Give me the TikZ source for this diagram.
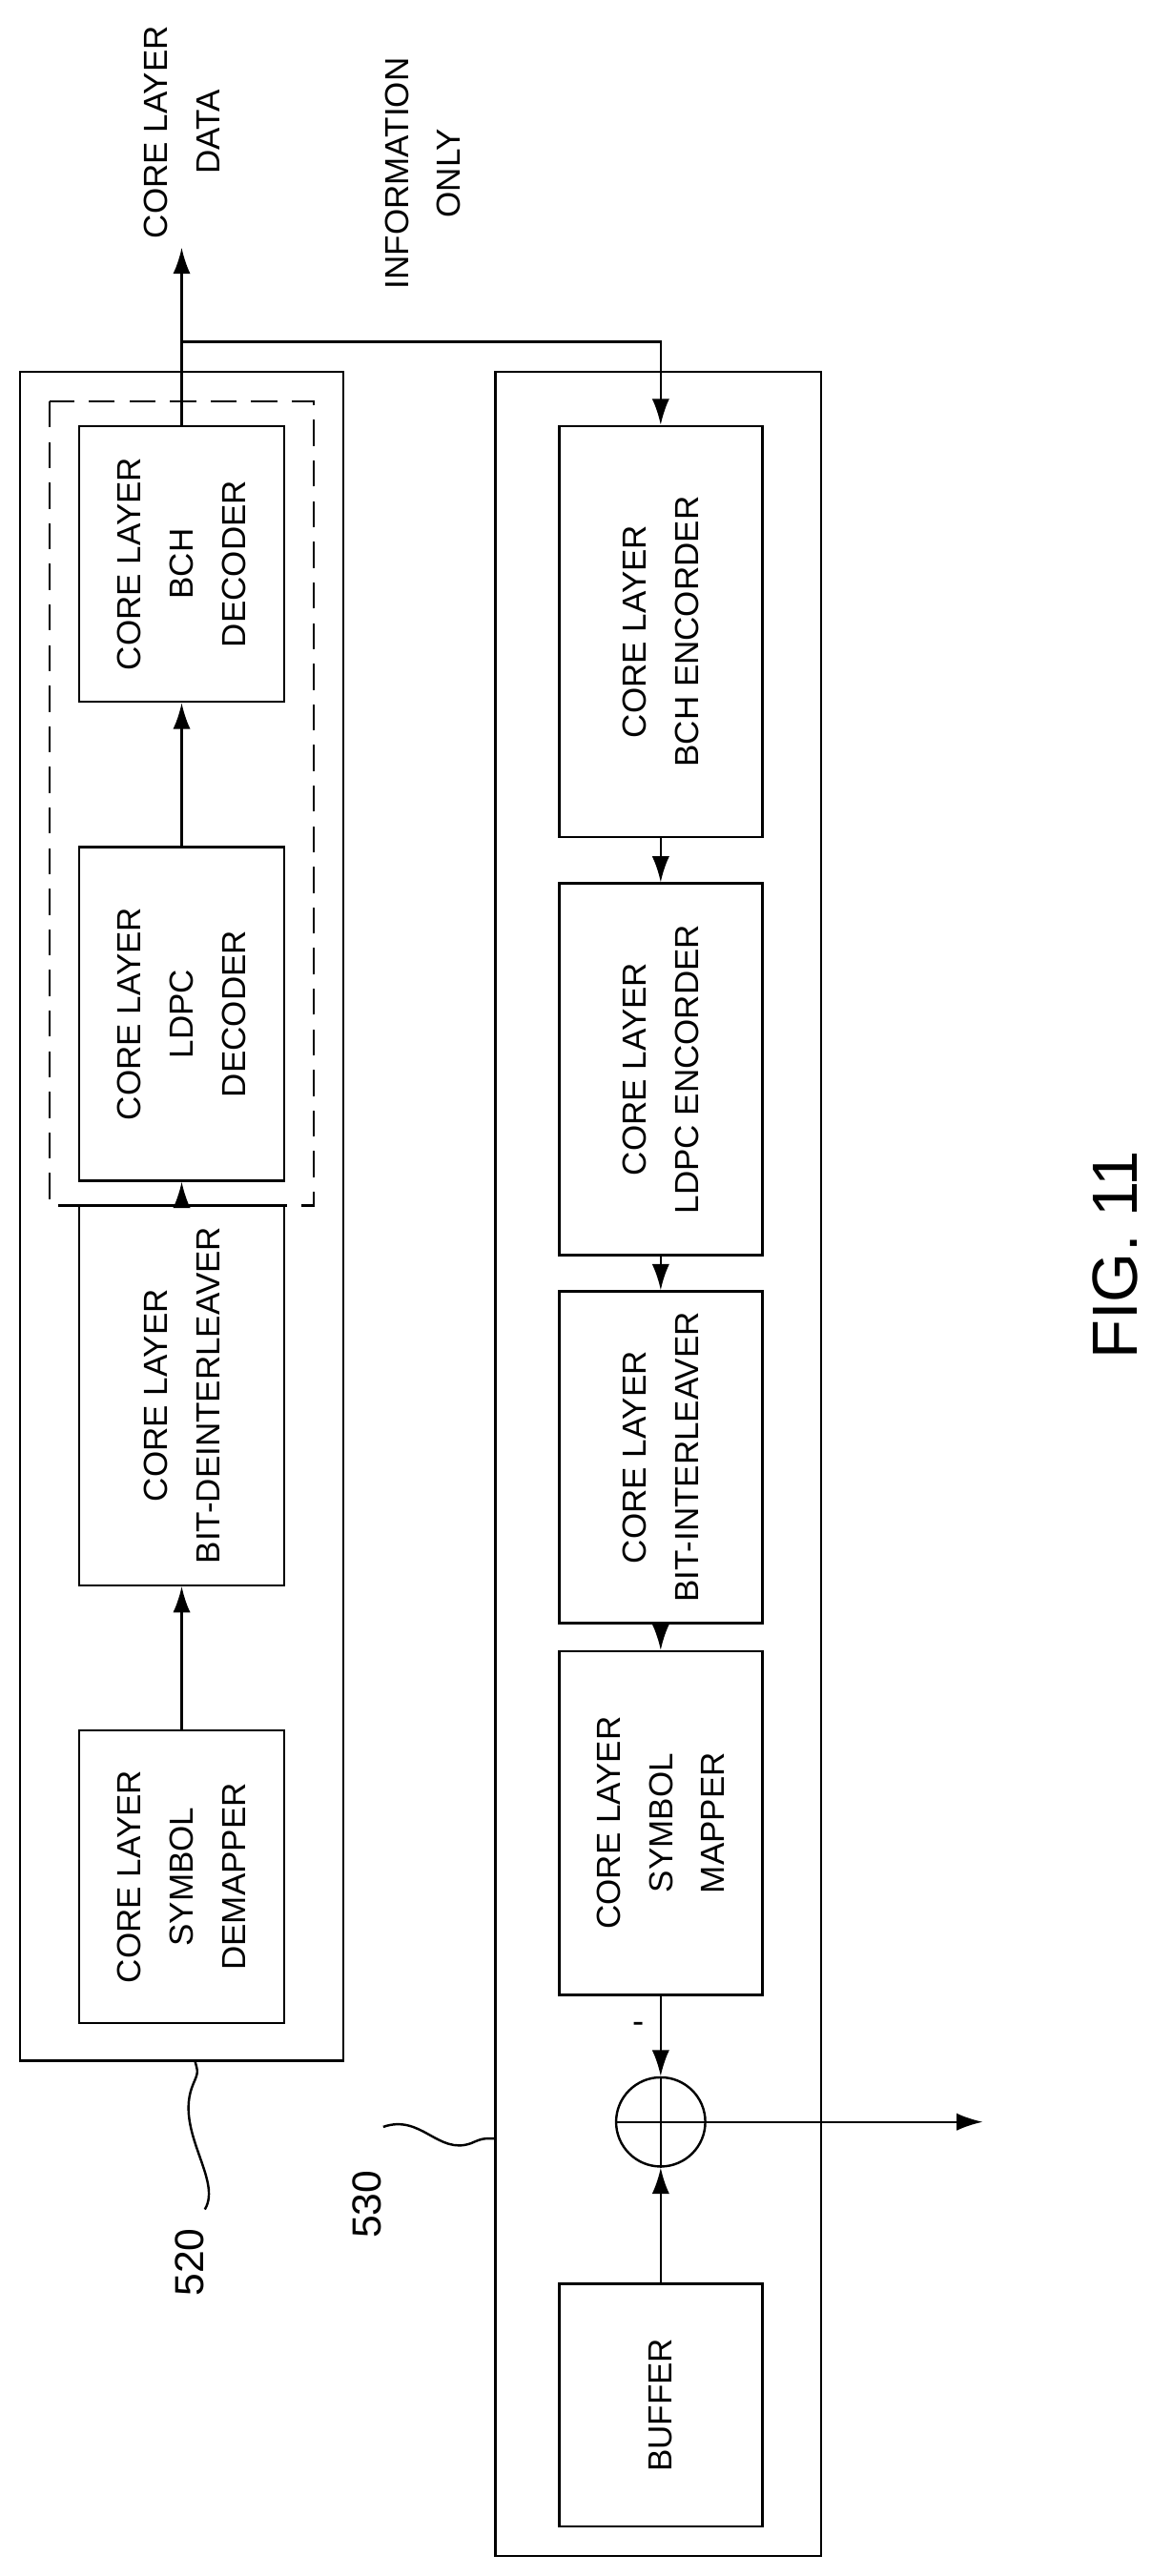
\documentclass[tikz,border=0pt]{standalone}
\usepackage{fontspec}
\setmainfont{Liberation Sans}
\usetikzlibrary{positioning,calc,arrows.meta}
\begin{document}
\begin{tikzpicture}[x=0.02cm,y=-0.02cm,
	blk/.style={draw,thick,rotate=90,align=center,inner sep=0pt,font=\fontsize{11.5}{18}\selectfont},
	lbl/.style={rotate=90,align=center,font=\fontsize{11.5}{18}\selectfont},
	arr/.style={-{Latex[length=9pt,width=6pt]},thick}]
	\useasboundingbox (0,0) rectangle (697,1560);
	%outer boxes
	\draw[thick] (12,225) rectangle (208,1248);
	\draw[thick,dashed,dash pattern=on 9pt off 5pt] (30,243) rectangle (190,730);
	\draw[thick] (300,225) rectangle (497,1548);
	%decoder side
	\node[blk,minimum width=3.34cm,minimum height=2.48cm] (bchdec) at (110,341.5) {CORE LAYER\\BCH\\DECODER};
	\node[blk,minimum width=4.04cm,minimum height=2.48cm] (ldpcdec) at (110,614) {CORE LAYER\\LDPC\\DECODER};
	\node[blk,minimum width=4.6cm,minimum height=2.48cm] (deint) at (110,845) {CORE LAYER\\BIT-DEINTERLEAVER};
	\node[blk,minimum width=3.54cm,minimum height=2.48cm] (demap) at (110,1136.5) {CORE LAYER\\SYMBOL\\DEMAPPER};
	%encoder side
	\node[blk,minimum width=4.98cm,minimum height=2.46cm] (bchenc) at (400,382.5) {CORE LAYER\\BCH ENCORDER};
	\node[blk,minimum width=4.5cm,minimum height=2.46cm] (ldpcenc) at (400,647.5) {CORE LAYER\\LDPC ENCORDER};
	\node[blk,minimum width=4.02cm,minimum height=2.46cm] (bitint) at (400,882.5) {CORE LAYER\\BIT-INTERLEAVER};
	\node[blk,minimum width=4.16cm,minimum height=2.46cm] (mapper) at (400,1104) {CORE LAYER\\SYMBOL\\MAPPER};
	\node[blk,minimum width=2.94cm,minimum height=2.46cm] (buffer) at (400,1456.5) {BUFFER};
	\node[draw,thick,circle,minimum size=1.08cm,inner sep=0pt] (sum) at (400,1285) {};
	\draw[thick] (sum.north) -- (sum.south) (sum.west) -- (sum.east);
	%connectors
	\draw[arr] (demap.east) -- (deint.west);
	\draw[arr] (deint.east) -- (ldpcdec.west);
	\draw[arr] (ldpcdec.east) -- (bchdec.west);
	\coordinate (out) at (110,150);
	\coordinate (tap) at (110,207);
	\draw[arr] (bchdec.east) -- (out);
	\draw[arr] (tap) -| (bchenc.east);
	\draw[arr] (bchenc.west) -- (ldpcenc.east);
	\draw[arr] (ldpcenc.west) -- (bitint.east);
	\draw[arr] (bitint.west) -- (mapper.east);
	\draw[arr] (mapper.west) -- (sum.north) node[pos=0.4,left=2pt,font=\large] {-};
	\draw[arr] (buffer.east) -- (sum.south);
	\coordinate (res) at (595,1285);
	\draw[arr] (sum.east) -- (res);
	%labels
	\node[lbl] (dataout) at (110,80) {CORE LAYER\\DATA};
	\node[lbl] (infoonly) at (256,105) {INFORMATION\\ONLY};
	\node[lbl,font=\fontsize{14}{18}\selectfont] (n520) at (115,1370) {520};
	\node[lbl,font=\fontsize{14}{18}\selectfont] (n530) at (222,1335) {530};
	\draw[thick] (124,1338) .. controls (135,1320) and (105,1290) .. (117,1262) .. controls (120,1255) .. (118,1248);
	\draw[thick] (232,1288) .. controls (255,1280) and (265,1305) .. (285,1298) .. controls (292,1295) .. (300,1295);
	\node[lbl,font=\fontsize{22}{26}\selectfont] (fig) at (675,760) {FIG. 11};
\end{tikzpicture}
\end{document}
